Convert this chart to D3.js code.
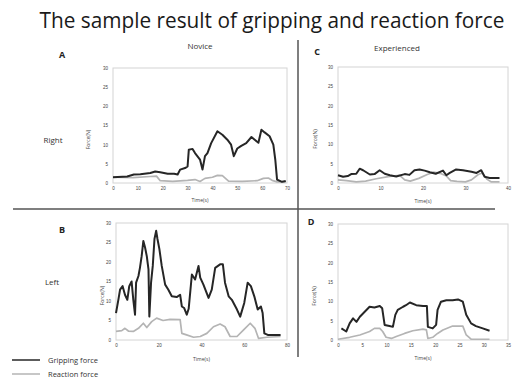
<!DOCTYPE html>
<html>
<head>
<meta charset="utf-8">
<script src="https://cdn.jsdelivr.net/npm/d3@7"></script>
<style>
  body { margin: 0; background: #fff; }
  svg { display: block; font-family: 'Open Sans', sans-serif; }
</style>
</head>
<body>
<div id="chart"></div>
<script>
// Y axis ticks shared by all panels
const forceTicks = [0, 5, 10, 15, 20, 25, 30]

// A - novice, right hand: [time s, force N]
const novRightGrip = [[0,1.5],[5.7,1.7],[8.4,2.2],[11,2.3],[15,2.6],[17,3],[19,2.8],[22,2.4],[24.6,2.4],[26,2.2],[27,3.5],[29,3.9],[30,4.3],[30.5,8.7],[32,8.9],[33,7.8],[35,6.1],[36,3.5],[37,7],[38,7.8],[39.5,10.4],[42,13.5],[44,12.6],[46,11.3],[47.5,10],[48.6,7],[50,9],[51.6,9.7],[53.6,10.4],[55.7,12],[57,11.3],[58.5,10.5],[59.7,13.9],[61,13.2],[63,12.2],[64.5,10],[65.3,6],[66,0.9],[68,0.3],[69.5,0.5]]
const novRightReact = [[0,1.5],[8,1.4],[15,1.7],[17.5,1.8],[19,0.6],[24,0.4],[30,0.7],[33,0.9],[35,0.4],[37,1.2],[40,1.5],[42,2],[44,1.9],[46.5,0.5],[52,0.4],[58,0.6],[60.5,1.2],[62.5,1.3],[64,0.7],[66,0.3],[69.5,0.3]]
const novRightTicks = [0, 10, 20, 30, 40, 50, 60, 70]

// C - experienced, right hand
const expRightGrip = [[0,2],[1.2,1.6],[2.3,1.8],[3.1,2.3],[4.3,2.4],[5.1,3.7],[5.9,3.3],[7.5,2.2],[8.6,2.3],[9.8,3.3],[11,2.4],[12.2,2],[13.7,1.7],[15.7,2.3],[16.8,2.1],[18,3.3],[19.2,3.5],[20.4,3.2],[21.6,2.8],[23,2.4],[24.7,3.2],[25.5,2],[26.3,2.6],[27.8,3.5],[29.4,3.3],[31.4,2.9],[32.6,2.6],[33.7,3.3],[34.5,1.6],[35.7,1.3],[38,1.3]]
const expRightReact = [[0,0.8],[2,0.6],[4.3,0.3],[6.5,0.5],[9,1.1],[12.2,1.7],[14.5,2],[15.7,0.8],[17,0.5],[19,1.2],[21,2.2],[22.5,2.8],[24,2.5],[25.5,1.8],[26.5,0.6],[28,0.4],[30,0.3],[31.4,0.8],[33,2.2],[34,2.6],[35,1],[36,0.3],[38,0.3]]
const expRightTicks = [0, 10, 20, 30, 40]

// B - novice, left hand
const novLeftGrip = [[0,6.9],[1.1,10.3],[1.9,12.9],[3.1,13.8],[4.2,11.6],[5.3,10.3],[6.2,13.8],[7.3,15],[8.1,10.3],[8.9,6.5],[9.4,14.7],[10.5,16.4],[11.2,18.5],[12,21.5],[12.8,25.4],[13.6,23.7],[14.4,21.5],[15.2,18.1],[15.6,6],[16.4,14.7],[17.2,19],[18,25.9],[18.8,28],[19.4,25.9],[20.3,23.3],[21.4,19],[23,14.2],[24.5,12.9],[26.1,11.2],[28.4,11],[30,11.6],[30.8,8.6],[31.9,8.2],[33.1,6.5],[34,8],[35.5,16.8],[37,15.5],[38.6,19],[39.4,16],[40.9,14.2],[43.3,10.8],[44.8,12.9],[46.4,18.5],[48.7,19.4],[50,19.4],[51,14.7],[52.7,11.2],[54.2,10.3],[56.6,7.8],[58.1,6],[60,9.5],[61.6,14.7],[63.1,13.8],[64.7,11.2],[66.3,7.8],[67.8,8.6],[68.6,6.9],[69.4,1.7],[71,1.3],[77,1.3]]
const novLeftReact = [[0,2.2],[2.7,2.4],[4.2,3],[5.8,2.3],[8.1,2.2],[10.5,3],[12.8,4.3],[14.4,3.2],[16.7,4.7],[19,5.6],[22,5],[25.3,5.3],[30,5.2],[30.8,1.7],[33,1.3],[36.3,0.7],[39.4,0.9],[42.5,1.7],[45.6,3.4],[48.7,4.1],[51,3.4],[53.4,0.9],[56.6,0.9],[59.7,2.6],[62.8,4.3],[65,3],[66.7,0.4],[70.6,0.7],[77,0.9]]
const novLeftTicks = [0, 20, 40, 60, 80]

// D - experienced, left hand
const expLeftGrip = [[0.7,3],[1.7,2.2],[2.4,4.3],[3.1,5.6],[3.8,4.7],[4.5,6],[5.5,7.3],[6.5,8.6],[7.5,8.4],[8.6,8.8],[9.1,8.2],[9.6,3.9],[10.6,3.6],[11.3,3.4],[11.8,6.5],[12.3,7.8],[13.4,8.6],[14,9],[14.8,9.7],[16.1,9],[17.5,8.8],[18.3,8.8],[18.5,3.4],[19.5,3],[20.2,3.9],[20.5,7.8],[21.2,9.9],[22.3,10.3],[23.6,10.3],[24.7,10.5],[25.7,9.9],[26.4,6.5],[27.4,4.3],[28.4,3.6],[29.8,3],[31.2,2.4]]
const expLeftReact = [[0,0.2],[2.4,0.7],[4.5,1.3],[6.5,2.2],[7.5,3],[8.6,3],[9.2,2.2],[9.9,0.7],[11,0.4],[12,0.9],[13.7,1.7],[15.4,2.4],[17.5,2.8],[18.2,2.6],[18.5,0.4],[19.5,0.7],[20.5,1.7],[21.6,2.6],[23.6,3.6],[25.7,3.6],[26.4,1.3],[27.4,0.2],[31.2,0.2]]
const expLeftTicks = [0, 5, 10, 15, 20, 25, 30, 35]

const width = 514
const height = 382
const gripColor = '#262626'
const reactColor = '#b4b4b4'
const textColor = '#444'

const svg = d3.select('#chart').append('svg')
  .attr('width', width)
  .attr('height', height)

// 标题
svg.append('text')
  .attr('x', 272)
  .attr('y', 28)
  .attr('text-anchor', 'middle')
  .style('font-size', '21px')
  .style('fill', '#1a1a1a')
  .attr('textLength', 465)
  .attr('lengthAdjust', 'spacingAndGlyphs')
  .text('The sample result of gripping and reaction force')

// 分隔线
svg.append('line')
  .attr('x1', 298).attr('x2', 298)
  .attr('y1', 40).attr('y2', 357)
  .style('stroke', '#555').style('stroke-width', 1.5)
svg.append('line')
  .attr('x1', 13).attr('x2', 495)
  .attr('y1', 209).attr('y2', 209)
  .style('stroke', '#555').style('stroke-width', 1.5)

const panels = [
  { letter: 'A', lx: 62, ly: 58, box: [113, 287, 68, 183], xMax: 70, ticks: novRightTicks,
    grip: novRightGrip, react: novRightReact, yLabelX: 90, timeY: 202 },
  { letter: 'C', lx: 317, ly: 55, box: [338, 508, 67, 183], xMax: 40, ticks: expRightTicks,
    grip: expRightGrip, react: expRightReact, yLabelX: 317, timeY: 203 },
  { letter: 'B', lx: 62, ly: 233, box: [116, 287, 223, 340], xMax: 80, ticks: novLeftTicks,
    grip: novLeftGrip, react: novLeftReact, yLabelX: 104, timeY: 361 },
  { letter: 'D', lx: 311, ly: 225, box: [338, 508, 224, 340], xMax: 35, ticks: expLeftTicks,
    grip: expLeftGrip, react: expLeftReact, yLabelX: 316, timeY: 360 }
]

panels.forEach(p => {
  const [x0, x1, y0, y1] = p.box
  const xScale = d3.scaleLinear().domain([0, p.xMax]).range([x0, x1])
  const yScale = d3.scaleLinear().domain([0, 30]).range([y1, y0])
  const g = svg.append('g')

  g.append('rect')
    .attr('x', x0).attr('y', y0)
    .attr('width', x1 - x0).attr('height', y1 - y0)
    .style('fill', 'none')
    .style('stroke', '#d4d4d4')
    .style('stroke-width', 1)

  const xAxis = g.append('g')
    .attr('transform', `translate(0,${y1})`)
    .call(d3.axisBottom(xScale).tickValues(p.ticks).tickSize(0).tickPadding(4))
  const yAxis = g.append('g')
    .attr('transform', `translate(${x0},0)`)
    .call(d3.axisLeft(yScale).tickValues(forceTicks).tickSize(0).tickPadding(5))
  ;[xAxis, yAxis].forEach(a => {
    a.select('.domain').remove()
    a.selectAll('text').style('font-size', '4.5px').style('fill', textColor)
  })

  const line = d3.line()
    .x(d => xScale(d[0]))
    .y(d => yScale(d[1]))

  g.append('path')
    .datum(p.react)
    .attr('d', line)
    .style('fill', 'none')
    .style('stroke', reactColor)
    .style('stroke-width', 1.7)
    .style('stroke-linejoin', 'round')

  g.append('path')
    .datum(p.grip)
    .attr('d', line)
    .style('fill', 'none')
    .style('stroke', gripColor)
    .style('stroke-width', 2)
    .style('stroke-linejoin', 'round')

  g.append('text')
    .attr('x', (x0 + x1) / 2)
    .attr('y', p.timeY)
    .attr('text-anchor', 'middle')
    .style('font-size', '5px')
    .style('fill', textColor)
    .text('Time(s)')

  g.append('text')
    .attr('transform', `translate(${p.yLabelX},${(y0 + y1) / 2 + 14}) rotate(-90)`)
    .attr('text-anchor', 'middle')
    .style('font-size', '5px')
    .style('fill', textColor)
    .text('Force(N)')

  g.append('text')
    .attr('x', p.lx).attr('y', p.ly)
    .attr('text-anchor', 'middle')
    .style('font-size', '9px')
    .style('font-weight', 'bold')
    .style('fill', '#222')
    .text(p.letter)
})

// 列标题 / 行标题
const headers = [
  ['Novice', 200, 49], ['Experienced', 397, 51], ['Right', 53, 143], ['Left', 52, 285]
]
svg.selectAll('.header')
  .data(headers)
  .enter().append('text')
  .attr('class', 'header')
  .attr('x', d => d[1]).attr('y', d => d[2])
  .attr('text-anchor', 'middle')
  .style('font-size', '8px')
  .style('fill', '#333')
  .text(d => d[0])

// 图例
const legend = [['Gripping force', gripColor, 360], ['Reaction force', reactColor, 374]]
const lg = svg.selectAll('.legend')
  .data(legend)
  .enter().append('g')
  .attr('class', 'legend')
lg.append('line')
  .attr('x1', 12).attr('x2', 40)
  .attr('y1', d => d[2]).attr('y2', d => d[2])
  .style('stroke', d => d[1])
  .style('stroke-width', 1.5)
lg.append('text')
  .attr('x', 48).attr('y', d => d[2] + 2.5)
  .style('font-size', '7.5px')
  .style('fill', '#333')
  .text(d => d[0])
</script>
</body>
</html>
